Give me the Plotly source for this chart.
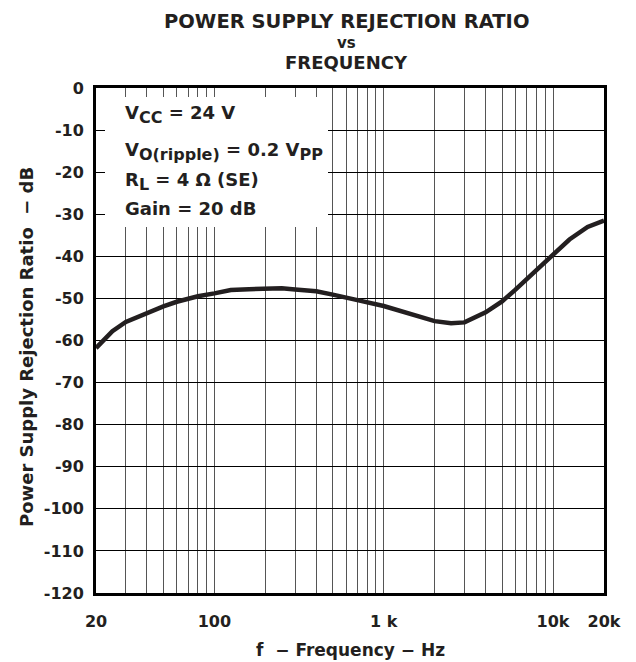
import plotly.graph_objects as go
import math

# ---- data ----
freq_hz = [20, 25, 30, 40, 50, 60, 80, 100, 125, 160, 200, 250, 300, 400, 500, 600, 700,
           1000, 1500, 2000, 2500, 3000, 4000, 5000, 6000, 8000, 10000, 12500, 16000, 20000]
psrr_db = [-61.8, -57.8, -55.6, -53.4, -51.9, -50.8, -49.5, -48.8, -48.0, -47.8, -47.7, -47.6, -47.9,
           -48.3, -49.1, -49.7, -50.4, -51.8, -53.8, -55.4, -55.9, -55.7, -53.3, -50.7, -47.9,
           -43.2, -39.6, -36.0, -33.0, -31.5]

x_tickvals = [20, 100, 1000, 10000, 20000]
x_ticktext = ["20", "100", "1 k", "10k", "20k"]
x_minor_grid = [30, 40, 50, 60, 70, 80, 90, 200, 300, 400, 500, 600, 700, 800, 900,
                2000, 3000, 4000, 5000, 6000, 7000, 8000, 9000]
y_ticks = list(range(0, -121, -10))

W, H = 636, 662
OFF = 8  # page body margin
# plot area in page pixels
PL, PR, PT, PB = 96, 604, 88, 593
L, R, T, B = PL - OFF, PR - OFF, PT - OFF, PB - OFF

def xp(p):  # page px -> paper
    return (p - PL) / (PR - PL)

def yp(p):
    return (PB - p) / (PB - PT)

FONT = "DejaVu Sans, Verdana, sans-serif"
INK = "#231f20"

fig = go.Figure()
fig.add_trace(go.Scatter(x=freq_hz, y=psrr_db, mode="lines",
                         line=dict(color=INK, width=4.5), hoverinfo="skip"))

fig.update_layout(
    width=W, height=H,
    margin=dict(l=L, r=W - R, t=T, b=H - B),
    paper_bgcolor="white", plot_bgcolor="white",
    showlegend=False,
    font=dict(family=FONT, color=INK, size=16, weight="bold"),
)

fig.update_xaxes(
    type="log", range=[math.log10(20), math.log10(20000)],
    tickmode="array", tickvals=x_tickvals, ticktext=x_ticktext,
    showgrid=True, gridcolor="#555555", gridwidth=1,
    minor=dict(tickmode="array", tickvals=x_minor_grid, showgrid=True,
               gridcolor="#555555", gridwidth=1, ticks=""),
    showline=True, linecolor="black", linewidth=3, mirror=True,
    ticks="", ticklabelstandoff=12,
    tickfont=dict(family=FONT, size=16, color=INK, weight="bold"),
    zeroline=False,
)
fig.update_yaxes(
    range=[-120, 0], tickmode="array", tickvals=y_ticks,
    ticktext=[str(v) for v in y_ticks],
    showgrid=True, gridcolor="black", gridwidth=1.2,
    showline=True, linecolor="black", linewidth=3, mirror=True,
    ticks="", ticklabelstandoff=6,
    tickfont=dict(family=FONT, size=16, color=INK, weight="bold"),
    zeroline=False,
)

# axis titles
fig.add_annotation(text="f  \u2212 Frequency \u2212 Hz", xref="paper", yref="paper",
                   x=xp(350), y=yp(650), xanchor="center", yanchor="middle", showarrow=False,
                   font=dict(family=FONT, size=17, color=INK, weight="bold"))
fig.add_annotation(text="Power Supply Rejection Ratio  \u2212 dB", xref="paper", yref="paper",
                   x=xp(26), y=yp(347), xanchor="center", yanchor="middle", showarrow=False,
                   textangle=-90,
                   font=dict(family=FONT, size=18, color=INK, weight="bold"))

# white panel behind the conditions text
fig.add_shape(type="rect", xref="paper", yref="paper",
              x0=xp(105), x1=xp(328), y0=yp(227), y1=yp(97),
              fillcolor="white", line=dict(width=0), layer="above")

def sub(s):
    return "<sub><span style='font-size:16px'>" + s + "</span></sub>"

cond_lines = [
    ("V" + sub("CC") + " = 24 V", 111),
    ("V" + sub("O(ripple)") + " = 0.2 V" + sub("PP"), 148),
    ("R" + sub("L") + " = 4 \u03a9 (SE)", 178),
    ("Gain = 20 dB", 207),
]
for txt, ypx in cond_lines:
    fig.add_annotation(text=txt, xref="paper", yref="paper", x=xp(124), y=yp(ypx - 10),
                       xanchor="left", yanchor="top", showarrow=False, align="left",
                       borderpad=0,
                       font=dict(family=FONT, size=18, color=INK, weight="bold"))

title_lines = [("POWER SUPPLY REJECTION RATIO", 21, 19.5), ("vs", 43, 15), ("FREQUENCY", 63, 18)]
for txt, ypx, sz in title_lines:
    fig.add_annotation(text=txt, xref="paper", yref="paper", x=xp(346), y=yp(ypx),
                       xanchor="center", yanchor="middle", showarrow=False, borderpad=0,
                       font=dict(family=FONT, size=sz, color=INK, weight="bold"))

fig.write_html("out.html")
